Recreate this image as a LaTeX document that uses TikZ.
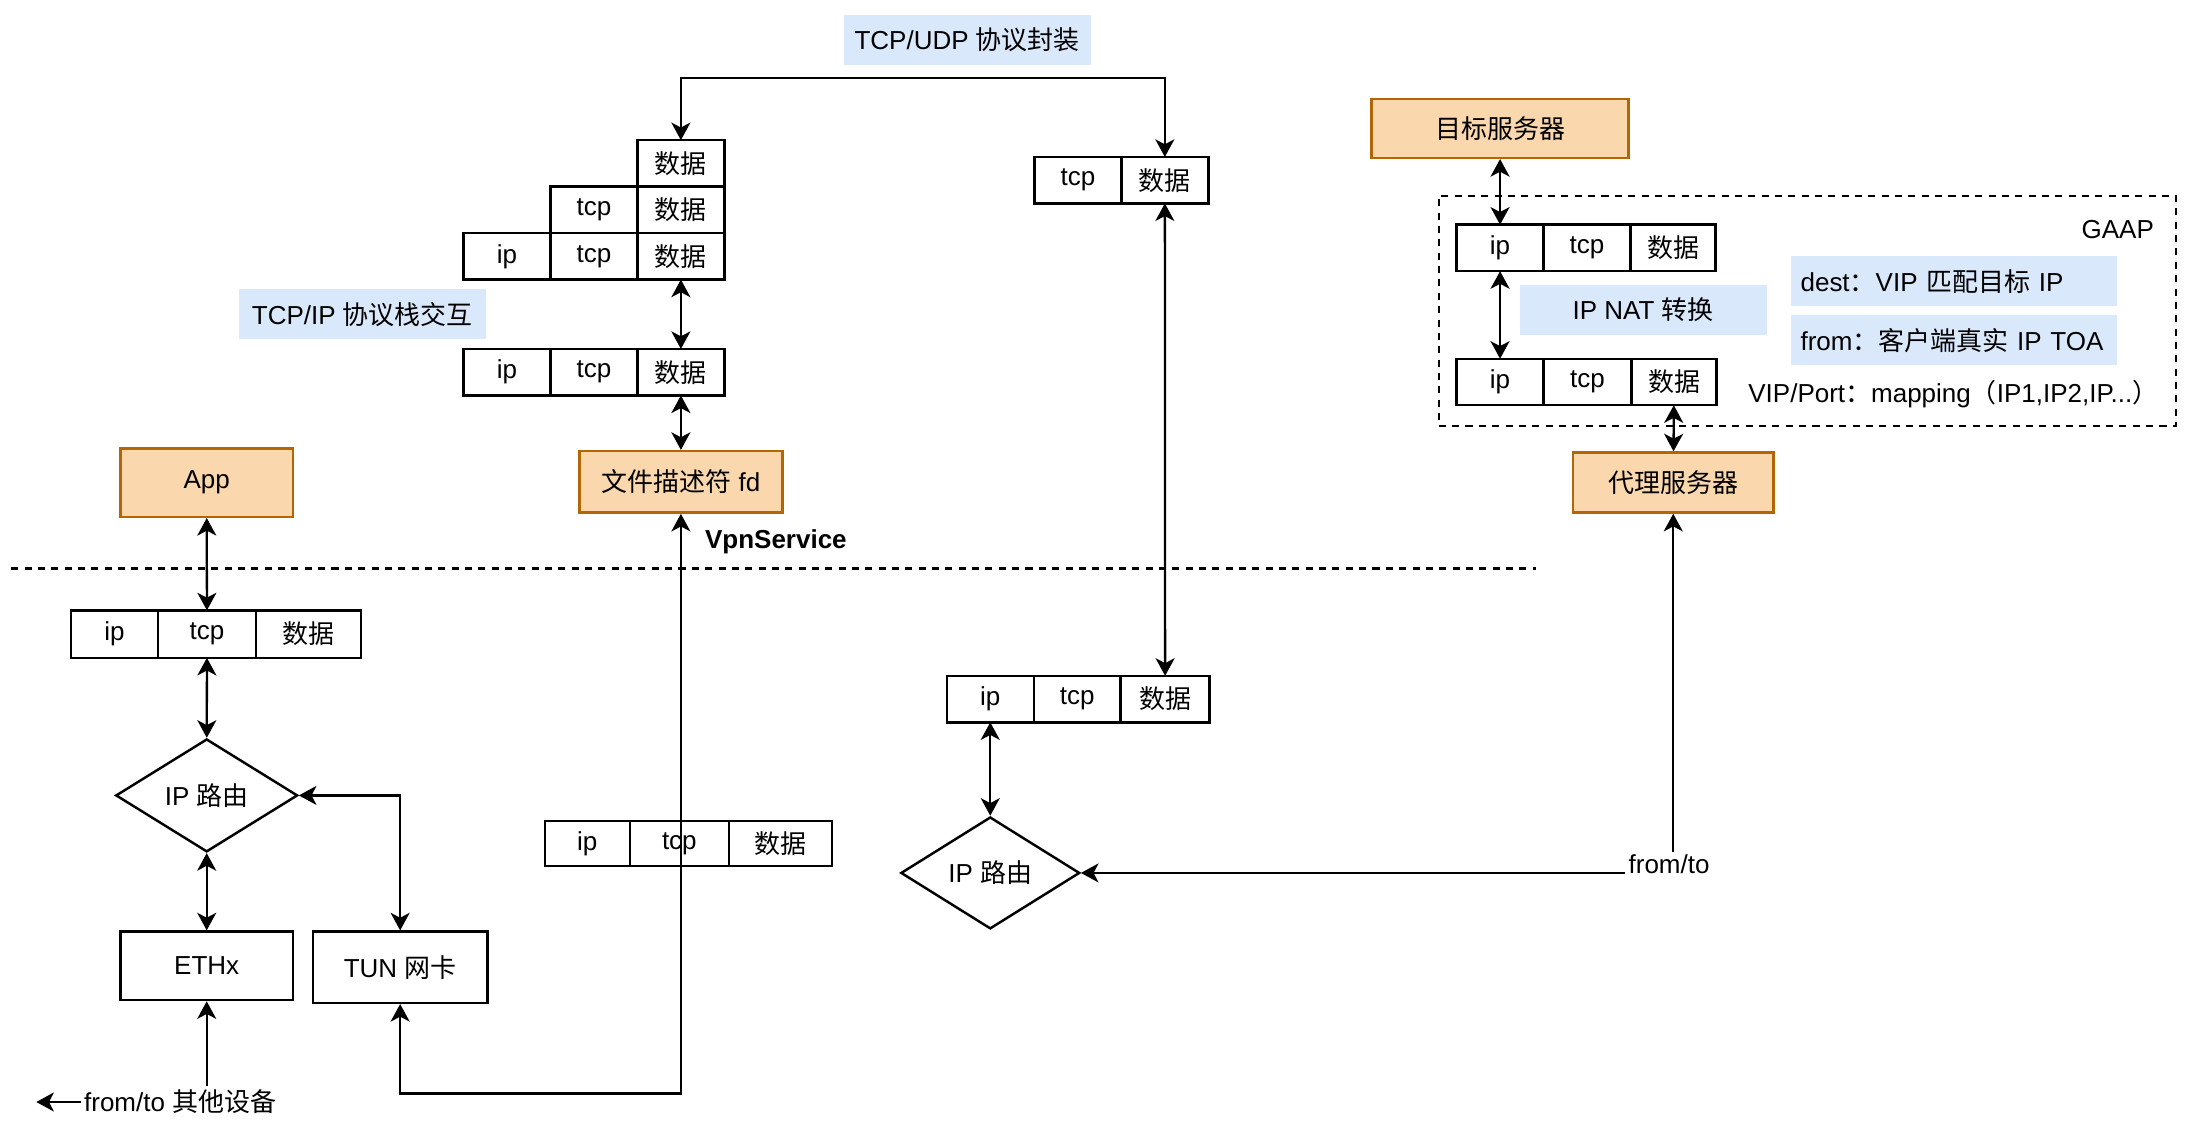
\documentclass[tikz,border=0pt]{standalone}
\usepackage{fontspec}
\setmainfont{Liberation Sans}
\newfontfamily\cjk{Noto Sans CJK SC}
\usetikzlibrary{arrows.meta,positioning,shapes.geometric}
\definecolor{boxfill}{HTML}{FAD7AC}
\definecolor{boxline}{HTML}{B46504}
\definecolor{notefill}{HTML}{DAE8FC}
\newcommand{\zhs}[1]{{\cjk #1}}

\begin{document}
\begin{tikzpicture}[
    x=0.01397cm, y=-0.01397cm,
    >={Stealth[length=5pt,width=5.4pt,inset=1.4pt]},
    every node/.style={font=\fontsize{7.4}{9}\selectfont},
    cell/.style={draw, line width=0.7pt, outer sep=0pt, inner sep=0pt,
                 minimum width=0.87cm, minimum height=0.465cm},
    srv/.style={draw=boxline, fill=boxfill, line width=0.7pt, inner sep=0pt},
    dev/.style={draw, line width=0.7pt, inner sep=0pt, minimum width=1.73cm},
    route/.style={draw, diamond, aspect=1.6, line width=0.7pt, inner sep=0pt},
    note/.style={fill=notefill, inner sep=0pt, minimum width=2.47cm, minimum height=0.5cm},
    link/.style={<->, line width=0.65pt},
    tag/.style={fill=white, inner sep=1pt}
  ]
  \useasboundingbox (0,0) rectangle (1568,803);

  % labels
  \node[note] (udp) at (692.5,28.5) {TCP/UDP \zhs{协议封装}};
  \node[note] (ipstack) at (259.5,225) {TCP/IP \zhs{协议栈交互}};

  % protocol stack
  \node[cell] (s1d) at (487.5,117) {\zhs{数据}};
  \node[cell, below=0pt of s1d] (s2d) {\zhs{数据}};
  \node[cell, left=0pt of s2d] (s2t) {tcp};
  \node[cell, below=0pt of s2d] (s3d) {\zhs{数据}};
  \node[cell, left=0pt of s3d] (s3t) {tcp};
  \node[cell, left=0pt of s3t] (s3i) {ip};
  \node[cell] (s4d) at (487.5,266.5) {\zhs{数据}};
  \node[cell, left=0pt of s4d] (s4t) {tcp};
  \node[cell, left=0pt of s4t] (s4i) {ip};
  \node[srv, minimum width=2.03cm, minimum height=0.615cm] (fd) at (487.5,345) {\zhs{文件描述符} fd};
  \node[font=\fontsize{7.4}{9}\selectfont\bfseries] (vpn) at (555.5,388) {VpnService};

  % right column
  \node[cell] (t1d) at (834,129) {\zhs{数据}};
  \node[cell, left=0pt of t1d] (t1t) {tcp};
  \node[cell] (mi) at (709,500.5) {ip};
  \node[cell, right=0pt of mi] (mt) {tcp};
  \node[cell, right=0pt of mt, minimum width=0.89cm] (md) {\zhs{数据}};
  \node[route, minimum width=1.79cm, minimum height=1.12cm] (rroute) at (709,625) {IP \zhs{路由}};

  % app side
  \node[srv, minimum width=1.73cm, minimum height=0.685cm] (app) at (148,345.5) {App};
  \node[cell, minimum height=0.475cm] (li) at (82,454) {ip};
  \node[cell, right=0pt of li, minimum width=0.98cm, minimum height=0.475cm] (lt) {tcp};
  \node[cell, right=0pt of lt, minimum width=1.05cm, minimum height=0.475cm] (ld) {\zhs{数据}};
  \node[route, minimum width=1.82cm, minimum height=1.13cm] (lroute) at (148,569.5) {IP \zhs{路由}};
  \node[dev, minimum height=0.685cm] (ethx) at (148,691.5) {ETHx};
  \node[dev, minimum width=1.746cm, minimum height=0.712cm] (tun) at (286.5,692.5) {TUN \zhs{网卡}};
  \node[cell, minimum width=0.852cm, minimum height=0.45cm] (ci) at (420.5,604) {ip};
  \node[cell, right=0pt of ci, minimum width=0.99cm, minimum height=0.45cm] (ct) {tcp};
  \node[cell, right=0pt of ct, minimum width=1.034cm, minimum height=0.45cm] (cd) {\zhs{数据}};

  % GAAP
  \node[srv, minimum width=2.57cm, minimum height=0.587cm] (target) at (1074,92) {\zhs{目标服务器}};
  \node[draw, dashed, line width=0.6pt, dash pattern=on 2pt off 1.8pt,
        minimum width=7.376cm, minimum height=2.305cm] (gaap) at (1294,222.5) {};
  \node[anchor=north east] (gaaplbl) at (1551,149) {GAAP};
  \node[cell] (g1i) at (1074,177.5) {ip};
  \node[cell, right=0pt of g1i] (g1t) {tcp};
  \node[cell, right=0pt of g1t, minimum width=0.852cm] (g1d) {\zhs{数据}};
  \node[cell] (g2i) at (1074,273.5) {ip};
  \node[cell, right=0pt of g2i, minimum width=0.88cm] (g2t) {tcp};
  \node[cell, right=0pt of g2t, minimum width=0.852cm] (g2d) {\zhs{数据}};
  \node[note] (nat) at (1176.5,222) {IP NAT \zhs{转换}};
  \node[note, minimum width=3.27cm, text width=3.07cm, inner xsep=0.1cm, align=left] (dest) at (1399,201.5) {dest\zhs{：}VIP \zhs{匹配目标} IP};
  \node[note, minimum width=3.27cm, text width=3.07cm, inner xsep=0.1cm, align=left] (from) at (1399,243.5) {from\zhs{：}\zhs{客户端真实} IP TOA};
  \node (vipmap) at (1398.5,282) {VIP/Port\zhs{：}mapping\zhs{（}IP1,IP2,IP...\zhs{）}};
  \node[srv, minimum width=2.01cm, minimum height=0.6cm] (proxy) at (1198,345.5) {\zhs{代理服务器}};

  \draw[dashed, line width=0.6pt, dash pattern=on 2pt off 1.8pt] (8,407) -- (1100,407);

  % connectors
  \coordinate (wrap) at (660,56);
  \coordinate (vpnbot) at (400,783);
  \coordinate (devend) at (26,789);
  \draw[link] (s1d.north) |- (wrap) -| (t1d.north);
  \draw[link] (s3d) -- (s4d);
  \draw[link] (s4d) -- (fd);
  \draw[link] (fd.south) |- (vpnbot) -| (tun.south);
  \draw[link] (app) -- (lt);
  \draw[link] (lt) -- (lroute);
  \draw[link] (lroute) -- (ethx);
  \draw[link] (lroute.east) -| (tun.north);
  \draw[link] (ethx.south) |- (devend);
  \draw[link] (t1d) -- (md);
  \draw[link] (mi) -- (rroute);
  \draw[link] (proxy.south) |- (rroute.east);
  \draw[link] (target) -- (g1i);
  \draw[link] (g1i) -- (g2i);
  \draw[link] (g2d) -- (proxy);

  \node[tag] (other) at (129,789) {from/to \zhs{其他设备}};
  \node[tag] (fromto) at (1195,619) {from/to};
\end{tikzpicture}
\end{document}
